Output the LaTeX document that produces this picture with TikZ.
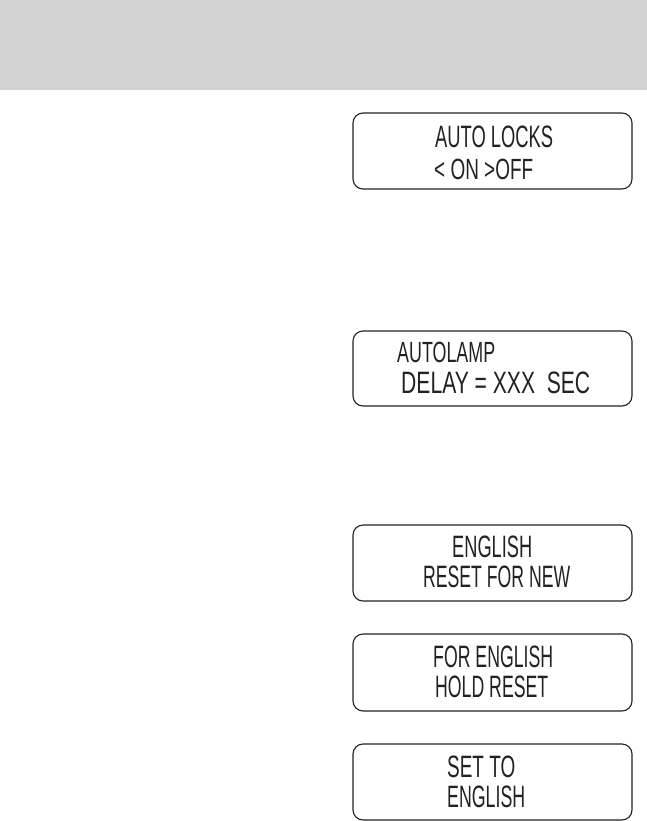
\documentclass[tikz,border=0pt]{standalone}
\usepackage{fontspec}
\setmainfont{Liberation Sans}
\usepackage{graphicx}
\definecolor{bandgray}{HTML}{D2D2D2}
\definecolor{lcdline}{HTML}{222222}
\tikzset{
  lcdbox/.style={draw=lcdline, line width=1.1pt, rounded corners=10pt, minimum width=279pt, inner sep=0pt},
  lcdtext/.style={anchor=south west, inner sep=0pt, text=lcdline}
}
\newcommand{\lcd}[3]{\resizebox{#1pt}{#2pt}{#3}}
\begin{document}
\begin{tikzpicture}[x=1pt,y=-1pt]
\useasboundingbox (0,0) rectangle (647,821);
\fill[bandgray] (0,0) rectangle (647,90);
% box 1
\node[lcdbox, minimum height=76pt] (b1) at (492.5,151) {};
\node[lcdtext] (t1a) at (435,148) {\lcd{118}{21.6}{AUTO LOCKS}};
\node[lcdtext] (t1b) at (434,180) {\lcd{99}{20.4}{< ON >OFF}};
% box 2
\node[lcdbox, minimum height=75pt] (b2) at (492.5,368.5) {};
\node[lcdtext] (t2a) at (397,363) {\lcd{98}{20.4}{AUTOLAMP}};
\node[lcdtext] (t2b) at (401,394) {\lcd{189}{21.6}{DELAY = XXX \ SEC}};
% box 3
\node[lcdbox, minimum height=76pt] (b3) at (492.5,563) {};
\node[lcdtext] (t3a) at (452,558) {\lcd{80}{21.6}{ENGLISH}};
\node[lcdtext] (t3b) at (423,588) {\lcd{147}{21.6}{RESET FOR NEW}};
% box 4
\node[lcdbox, minimum height=77pt] (b4) at (492.5,672.5) {};
\node[lcdtext] (t4a) at (433,668) {\lcd{120}{21.6}{FOR ENGLISH}};
\node[lcdtext] (t4b) at (435,698) {\lcd{113}{21.6}{HOLD RESET}};
% box 5
\node[lcdbox, minimum height=76pt] (b5) at (492.5,782) {};
\node[lcdtext] (t5a) at (447,778) {\lcd{68}{21.6}{SET TO}};
\node[lcdtext] (t5b) at (447,808) {\lcd{78}{21.6}{ENGLISH}};
\end{tikzpicture}
\end{document}
